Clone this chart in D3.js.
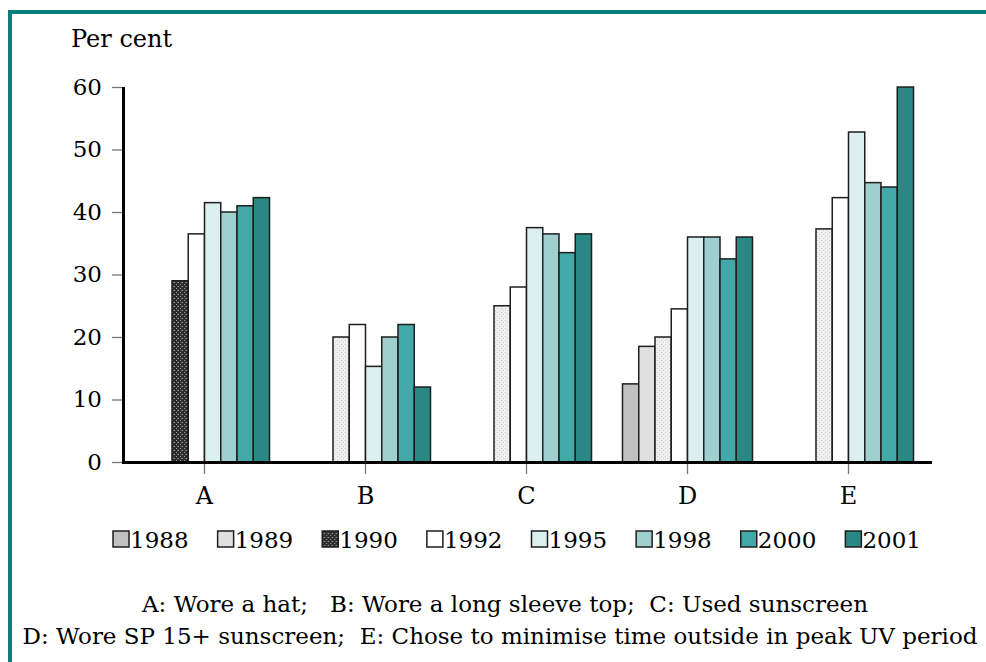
<!DOCTYPE html>
<html>
<head>
<meta charset="utf-8">
<script src="https://cdn.jsdelivr.net/npm/d3@7"></script>
<style>
  html, body { margin: 0; padding: 0; background: #fff; }
  svg { display: block; }
  text { font-family: "DejaVu Serif", "Liberation Serif", serif; fill: #000; white-space: pre; }
</style>
</head>
<body>
<script>
// ---- Data ----
const categories = ["A", "B", "C", "D", "E"];
const years = ["1988", "1989", "1990", "1992", "1995", "1998", "2000", "2001"];
const v1988 = [null, null, null, 12.5, null];
const v1989 = [null, null, null, 18.5, null];
const v1990 = [29, 20, 25, 20, 37.3];
const v1992 = [36.5, 22, 28, 24.5, 42.3];
const v1995 = [41.5, 15.3, 37.5, 36, 52.8];
const v1998 = [40, 20, 36.5, 36, 44.7];
const v2000 = [41, 22, 33.5, 32.5, 44];
const v2001 = [42.3, 12, 36.5, 36, 60];
const seriesValues = [v1988, v1989, v1990, v1992, v1995, v1998, v2000, v2001];
const yTicks = [0, 10, 20, 30, 40, 50, 60];
const captionLines = [
  "A: Wore a hat;   B: Wore a long sleeve top;  C: Used sunscreen",
  "D: Wore SP 15+ sunscreen;  E: Chose to minimise time outside in peak UV period"
];

// ---- Styles ----
const fills = {
  "1988": "#c0c0c0",
  "1989": "#e0e0e0",
  "1990": "url(#darkDots)",
  "1992": "#ffffff",
  "1995": "#dbefee",
  "1998": "#9fd0cf",
  "2000": "#43a9a8",
  "2001": "#2a8884"
};
// the 1990 series is drawn with a light speckle outside group A
function fillFor(year, cat) {
  if (year === "1990" && cat !== "A") return "url(#lightDots)";
  return fills[year];
}

const W = 986, H = 662;
const svg = d3.select("body").append("svg").attr("width", W).attr("height", H);

// patterns
const defs = svg.append("defs");
const dark = defs.append("pattern").attr("id", "darkDots").attr("patternUnits", "userSpaceOnUse")
  .attr("width", 4).attr("height", 4);
dark.append("rect").attr("width", 4).attr("height", 4).attr("fill", "#2e2e2e");
dark.append("rect").attr("x", 0).attr("y", 0).attr("width", 1).attr("height", 1).attr("fill", "#9a9a9a");
dark.append("rect").attr("x", 2).attr("y", 2).attr("width", 1).attr("height", 1).attr("fill", "#9a9a9a");
dark.append("rect").attr("x", 1).attr("y", 2).attr("width", 1).attr("height", 1).attr("fill", "#666");
const light = defs.append("pattern").attr("id", "lightDots").attr("patternUnits", "userSpaceOnUse")
  .attr("width", 4).attr("height", 4);
light.append("rect").attr("width", 4).attr("height", 4).attr("fill", "#efefef");
light.append("rect").attr("x", 1).attr("y", 0).attr("width", 1).attr("height", 1).attr("fill", "#c8c8c8");
light.append("rect").attr("x", 3).attr("y", 2).attr("width", 1).attr("height", 1).attr("fill", "#d0d0d0");

// frame
svg.append("line").attr("x1", 8).attr("x2", W).attr("y1", 12).attr("y2", 12)
  .attr("stroke", "#0a7e7c").attr("stroke-width", 4);
svg.append("line").attr("x1", 10).attr("x2", 10).attr("y1", 10).attr("y2", H)
  .attr("stroke", "#0a7e7c").attr("stroke-width", 4);

// ---- Scales ----
const x0 = d3.scaleBand().domain(categories).range([124, 929]).paddingInner(0.1925).paddingOuter(0.09625);
const x1 = d3.scaleBand().domain(years).range([0, x0.bandwidth()]);
const y = d3.scaleLinear().domain([0, 60]).range([462, 87]);

// ---- Bars ----
const barData = [];
categories.forEach((c, ci) => {
  years.forEach((yr, si) => {
    const v = seriesValues[si][ci];
    if (v != null) barData.push({ cat: c, year: yr, value: v });
  });
});
svg.append("g").selectAll("rect").data(barData).join("rect")
  .attr("x", d => x0(d.cat) + x1(d.year))
  .attr("y", d => y(d.value))
  .attr("width", x1.bandwidth())
  .attr("height", d => y(0) - y(d.value))
  .attr("fill", d => fillFor(d.year, d.cat))
  .attr("stroke", "#1e1e1e")
  .attr("stroke-width", 1.5);

// ---- Y axis ----
const yAxis = d3.axisLeft(y).tickValues(yTicks).tickSize(11).tickPadding(10);
const gy = svg.append("g").attr("transform", "translate(123,0)").call(yAxis);
gy.select(".domain").remove();
gy.selectAll(".tick line").attr("stroke", "#777").attr("stroke-width", 1.3);
gy.selectAll(".tick text").style("font-family", "DejaVu Serif").style("font-size", "23px").attr("fill", "#000");
svg.append("line").attr("x1", 123.5).attr("x2", 123.5).attr("y1", 87).attr("y2", 463.5)
  .attr("stroke", "#000").attr("stroke-width", 3);

// ---- X axis ----
const xAxis = d3.axisBottom(x0).tickSize(12).tickPadding(13);
const gx = svg.append("g").attr("transform", "translate(0,462)").call(xAxis);
gx.select(".domain").remove();
gx.selectAll(".tick line").attr("stroke", "#777").attr("stroke-width", 1.3);
gx.selectAll(".tick text").style("font-family", "DejaVu Serif").style("font-size", "24px").attr("fill", "#000");
svg.append("line").attr("x1", 122).attr("x2", 932).attr("y1", 462.5).attr("y2", 462.5)
  .attr("stroke", "#000").attr("stroke-width", 3);

// ---- Axis title ----
svg.append("text").attr("x", 71).attr("y", 47).style("font-size", "24px").text("Per cent");

// ---- Legend ----
const legend = svg.append("g");
const legendX = d3.scaleBand().domain(years).range([113, 950]);
const li = legend.selectAll("g").data(years).join("g")
  .attr("transform", d => `translate(${legendX(d)},531)`);
li.append("rect").attr("width", 16).attr("height", 16)
  .attr("fill", d => fills[d]).attr("stroke", "#1e1e1e").attr("stroke-width", 1.5);
li.append("text").attr("x", 17).attr("y", 17).style("font-size", "23px").text(d => d);

// ---- Caption ----
const cap = svg.append("g");
cap.append("text").attr("x", 505).attr("y", 612).attr("text-anchor", "middle")
  .style("font-size", "23px").text(captionLines[0]);
cap.append("text").attr("x", 500).attr("y", 644).attr("text-anchor", "middle")
  .style("font-size", "23px").text(captionLines[1]);
</script>
</body>
</html>
